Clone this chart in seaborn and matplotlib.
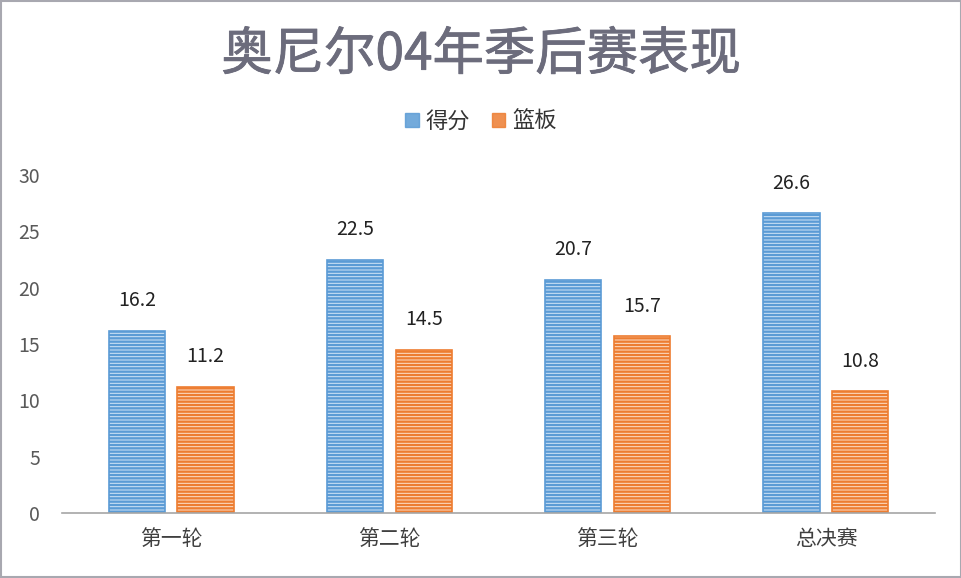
import pandas as pd
import matplotlib.pyplot as plt
import matplotlib.patheffects as pe
import seaborn as sns
from matplotlib.patches import Rectangle

# ---------------------------
# Data
# ---------------------------
rounds = ["第一轮", "第二轮", "第三轮", "总决赛"]
points = [16.2, 22.5, 20.7, 26.6]
rebounds = [11.2, 14.5, 15.7, 10.8]
series_names = ["得分", "篮板"]

df = pd.DataFrame({
    "round": rounds * 2,
    "value": points + rebounds,
    "stat": [series_names[0]] * len(rounds) + [series_names[1]] * len(rounds),
})

# ---------------------------
# Style
# ---------------------------
sns.set_style("white")
plt.rcParams['font.family'] = ['Noto Sans CJK SC', 'DejaVu Sans']
plt.rcParams['hatch.linewidth'] = 1.7

face_cols = {"得分": "#d2e5f7", "篮板": "#fde0cb"}
line_cols = {"得分": "#5b9bd5", "篮板": "#ed7d31"}

fig = plt.figure(figsize=(9.62, 5.78), dpi=100)
ax = fig.add_axes([0.0645, 0.1125, 0.9075, 0.5845])

sns.barplot(data=df, x="round", y="value", hue="stat", order=rounds,
            hue_order=series_names, width=0.63, gap=0.18,
            palette=face_cols, ax=ax, legend=False)

for cont, name in zip(ax.containers, series_names):
    for p in cont:
        p.set_facecolor(face_cols[name])
        p.set_edgecolor(line_cols[name])
        p.set_linewidth(1.2)
        p.set_hatch("-----")
    ax.bar_label(cont, labels=[f"{v:.1f}" for v in cont.datavalues],
                 padding=14, fontsize=14, color="#222222")

ax.set_ylim(0, 30)
ax.set_yticks(range(0, 31, 5))
ax.set_xlabel("")
ax.set_ylabel("")
ax.tick_params(axis="y", length=0, pad=16, labelsize=14, labelcolor="#595959")
ax.tick_params(axis="x", length=0, pad=11, labelsize=15, labelcolor="#404040")
sns.despine(ax=ax, left=True)
ax.spines["bottom"].set_color("#a6a6a6")
ax.spines["bottom"].set_linewidth(1.2)

# legend
handles = [Rectangle((0, 0), 1, 1, facecolor=line_cols[n], edgecolor=line_cols[n],
                     alpha=0.85) for n in series_names]
fig.legend(handles, series_names, loc="center", bbox_to_anchor=(0.5, 0.79),
           ncol=2, frameon=False, fontsize=16, handlelength=0.6, handleheight=0.6,
           handletextpad=0.3, columnspacing=1.0, labelcolor="#333333")

# title (slightly thickened strokes)
fig.text(0.5, 0.905, "奥尼尔04年季后赛表现", ha="center", va="center",
         fontsize=37, color="#6c6c7c",
         path_effects=[pe.withStroke(linewidth=0.6, foreground="#6c6c7c")])

# frame around figure
fig.add_artist(Rectangle((0.001, 0.001), 0.998, 0.998, transform=fig.transFigure,
                         fill=False, edgecolor="#a8a8b0", linewidth=1.5))

plt.savefig("out.png", dpi=100)
